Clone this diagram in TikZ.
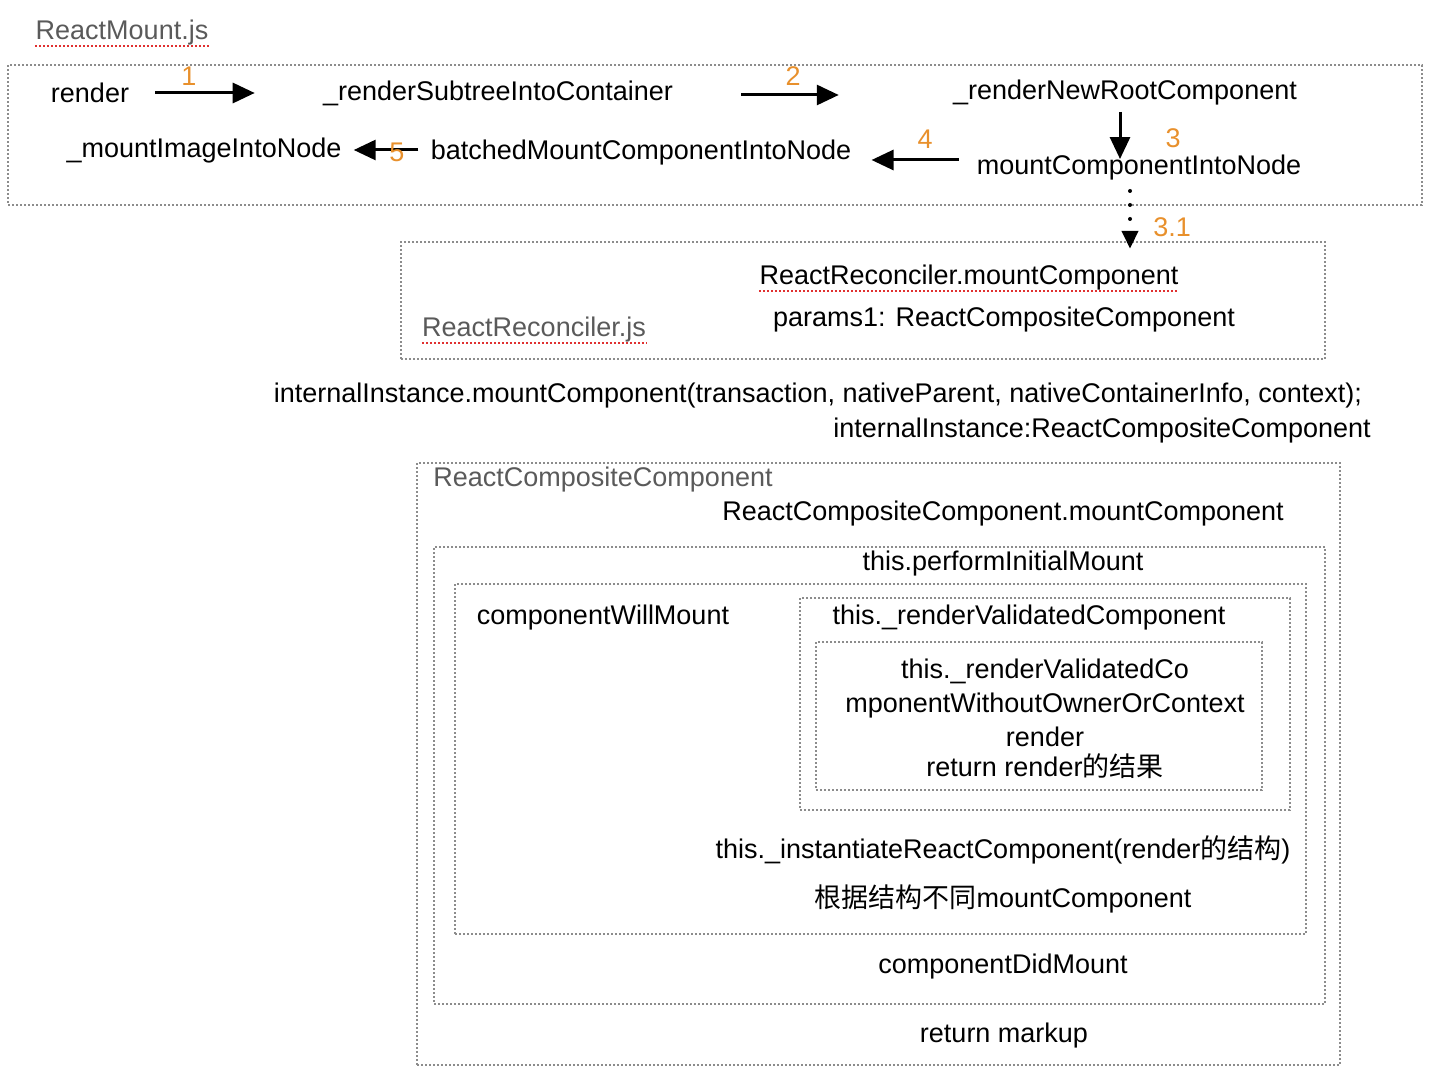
\documentclass[tikz,border=0pt]{standalone}
\usepackage{fontspec}
\setmainfont{Liberation Sans}
\newfontfamily\cjk{Noto Sans CJK SC}
\usetikzlibrary{arrows.meta,fit,calc}
\usepackage{xcolor}
\definecolor{stepcol}{HTML}{E8902C}
\definecolor{filecol}{HTML}{5A5A5A}
\definecolor{boxcol}{HTML}{8C8C8C}
\definecolor{wavecol}{HTML}{E03030}

\begin{document}
\begin{tikzpicture}[x=0.5pt, y=0.5pt]
    % Стилі
    \tikzstyle{txt}=[inner sep=0pt, font=\fontsize{13.5}{17}\selectfont]
    \tikzstyle{fname}=[txt, text=filecol]
    \tikzstyle{num}=[txt, text=stepcol]
    \tikzstyle{box}=[draw=boxcol, line width=1.2pt, dash pattern=on 1pt off 1pt, inner sep=0pt]
    \tikzstyle{arr}=[line width=1.5pt, -{Triangle[length=11pt, width=10pt]}]
    \tikzstyle{dotarr}=[line width=2pt, line cap=round, dash pattern=on 0pt off 7pt, -{Triangle[length=9pt, width=8pt]}]
    \tikzstyle{wave}=[draw=wavecol, line width=1pt, dash pattern=on 1pt off 1pt]

    \useasboundingbox (0,0) rectangle (1438,-1080);

    % ReactMount.js
    \node[fname] (mountjs) at (122,-33) {ReactMount.js};
    \node[box, fit={(8,-65) (1422,-205)}] (mountbox) {};
    \node[txt] (render) at (90,-93) {render};
    \node[txt] (subtree) at (498,-93) {\_renderSubtreeIntoContainer};
    \node[txt] (newroot) at (1125,-93) {\_renderNewRootComponent};
    \node[txt] (mountinto) at (1139,-168) {mountComponentIntoNode};
    \node[txt] (batched) at (641,-153) {batchedMountComponentIntoNode};
    \node[txt] (mountimg) at (204,-151) {\_mountImageIntoNode};

    % Кроки
    \node[num] (n1) at (189,-76) {1};
    \node[num] (n2) at (793,-76) {2};
    \node[num] (n3) at (1173,-138) {3};
    \node[num] (n4) at (925,-139) {4};
    \node[num] (n31) at (1172,-227) {3.1};

    % ReactReconciler.js
    \node[box, fit={(401,-242) (1325,-359)}] (recbox) {};
    \node[txt] (recmount) at (969,-278) {ReactReconciler.mountComponent};
    \node[txt] (params) at (1004,-320) {params1: ReactCompositeComponent};
    \node[fname] (recjs) at (534,-330) {ReactReconciler.js};

    \node[txt] (callline) at (818,-396) {internalInstance.mountComponent(transaction, nativeParent, nativeContainerInfo, context);};
    \node[txt] (instline) at (1102,-431) {internalInstance:ReactCompositeComponent};

    % ReactCompositeComponent
    \node[box, fit={(417,-463) (1340,-1065)}] (compbox) {};
    \node[fname] (compjs) at (603,-480) {ReactCompositeComponent};
    \node[txt] (compmount) at (1003,-514) {ReactCompositeComponent.mountComponent};
    \node[box, fit={(434,-547) (1325,-1004)}] (performbox) {};
    \node[txt] (perform) at (1003,-564) {this.performInitialMount};
    \node[box, fit={(455,-584) (1306,-934)}] (bodybox) {};
    \node[txt] (willmount) at (603,-618) {componentWillMount};
    \node[box, fit={(800,-598) (1290,-810)}] (validbox) {};
    \node[txt] (validated) at (1029,-618) {this.\_renderValidatedComponent};
    \node[box, fit={(816,-642) (1262,-790)}] (ownerbox) {};
    \node[txt, align=center] (ownertext) at (1045,-719) {this.\_renderValidatedCo\\mponentWithoutOwnerOrContext\\render\\[-2pt]return render{\cjk 的结果}};
    \node[txt] (instantiate) at (1003,-850) {this.\_instantiateReactComponent(render{\cjk 的结构})};
    \node[txt] (diffmount) at (1003,-899) {{\cjk 根据结构不同}mountComponent};
    \node[txt] (didmount) at (1003,-967) {componentDidMount};
    \node[txt] (markup) at (1004,-1036) {return markup};

    % Підкреслення
    \draw[wave] ([yshift=-3pt]mountjs.base west) -- ([yshift=-3pt]mountjs.base east);
    \draw[wave] ([yshift=-3pt]recmount.base west) -- ([yshift=-3pt]recmount.base east);
    \draw[wave] ([yshift=-3pt]recjs.base west) -- ([yshift=-3pt]recjs.base east);

    % Зв'язки
    \draw[arr, shorten <=13pt, shorten >=34pt] (render.east) -- (render.east -| subtree.west);
    \draw[arr, shorten <=34pt, shorten >=57pt] ([yshift=-1pt]subtree.east) -- ([yshift=-1pt]subtree.east -| newroot.west);
    \draw[arr, shorten <=3pt, shorten >=-2pt] ([xshift=-2.5pt]newroot.south) -- ([xshift=-2.5pt]newroot.south |- mountinto.north);
    \draw[arr, shorten <=9pt, shorten >=10pt] ([yshift=4pt]mountinto.west) -- ([yshift=4pt]mountinto.west -| batched.east);
    \draw[arr, shorten <=6pt] ([yshift=1.5pt]batched.west) -- ([xshift=6pt, yshift=1.5pt]batched.west -| mountimg.east);
    \node[num] (n5) at (397,-152) {5};
    \draw[dotarr, shorten >=-4pt] ([xshift=-4.5pt, yshift=-5pt]mountinto.south) -- ([xshift=-4.5pt]mountinto.south |- recbox.north);
\end{tikzpicture}
\end{document}
